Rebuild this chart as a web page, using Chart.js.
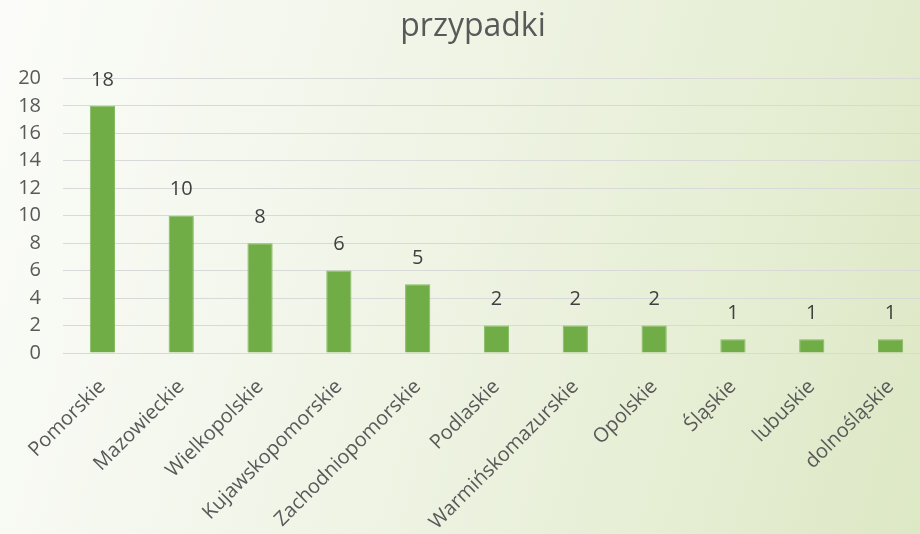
<!DOCTYPE html>
<html>
<head>
<meta charset="utf-8">
<script src="https://cdn.jsdelivr.net/npm/chart.js@4"></script>
<style>
    html, body { margin: 0; padding: 0; overflow: hidden; }
    body {
        width: 920px; height: 534px;
        background: linear-gradient(105deg, #fbfcf9 0%, #f1f5e8 40%, #e6eed4 75%, #dde8c5 100%);
    }
    #wrap { width: 960px; height: 534px; }
</style>
</head>
<body>
<div id="wrap"><canvas id="chartprzypadki"></canvas></div>
<script>

// Data {

    const regions = [
        'Pomorskie',
        'Mazowieckie',
        'Wielkopolskie',
        'Kujawskopomorskie',
        'Zachodniopomorskie',
        'Podlaskie',
        'Warmińskomazurskie',
        'Opolskie',
        'Śląskie',
        'lubuskie',
        'dolnośląskie'
    ];

    const cases = [
        18, 10, 8, 6, 5, 2, 2, 2, 1, 1, 1
    ];

    const title = 'przypadki';

// };

// Value labels above bars {

    const valueLabels = {
        id: 'valueLabels',
        afterDatasetsDraw(chart) {
            const ctx = chart.ctx;
            const meta = chart.getDatasetMeta(0);
            ctx.save();
            ctx.font = '20px "Open Sans"';
            ctx.fillStyle = '#404040';
            ctx.textAlign = 'center';
            ctx.textBaseline = 'middle';
            meta.data.forEach((bar, i) => {
                ctx.fillText(String(cases[i]), bar.x, bar.y - 26);
            });
            ctx.restore();
        }
    };

// };

// Chart {

    const cp = document.getElementById('chartprzypadki').getContext('2d');

    const chart = new Chart(cp, {
        type: 'bar',
        data: {
            labels: regions,
            datasets: [
                {
                    label: title,
                    data: cases,
                    backgroundColor: '#70ad47',
                    borderColor: '#86ba62',
                    borderWidth: 1,
                    categoryPercentage: 1,
                    barPercentage: 0.32
                }
            ]
        },
        options: {
            responsive: true,
            maintainAspectRatio: false,
            animation: false,
            layout: {
                padding: { left: 16, right: 30, top: 0, bottom: 0 }
            },
            plugins: {
                legend: { display: false },
                tooltip: { enabled: false },
                title: {
                    display: true,
                    text: title,
                    color: '#595959',
                    font: { family: 'Open Sans', size: 32, weight: 'normal' },
                    padding: { top: 8, bottom: 32 }
                }
            },
            scales: {
                x: {
                    grid: { display: false, drawTicks: false },
                    border: { display: true, color: '#d9d9d9', width: 1 },
                    ticks: {
                        color: '#595959',
                        font: { family: 'Open Sans', size: 20 },
                        maxRotation: 45,
                        minRotation: 45,
                        autoSkip: false,
                        padding: 22
                    },
                    afterFit(scale) {
                        scale.paddingLeft = 0;
                        scale.paddingRight = 0;
                        scale.height = 181;
                    }
                },
                y: {
                    min: 0,
                    max: 20,
                    grid: { color: '#d9d9d9', lineWidth: 1, drawTicks: false },
                    border: { display: false },
                    ticks: {
                        stepSize: 2,
                        color: '#595959',
                        font: { family: 'Open Sans', size: 20 },
                        padding: 22
                    },
                    afterFit(scale) {
                        scale.width = 47;
                    }
                }
            }
        },
        plugins: [valueLabels]
    });

// };

</script>
</body>
</html>
